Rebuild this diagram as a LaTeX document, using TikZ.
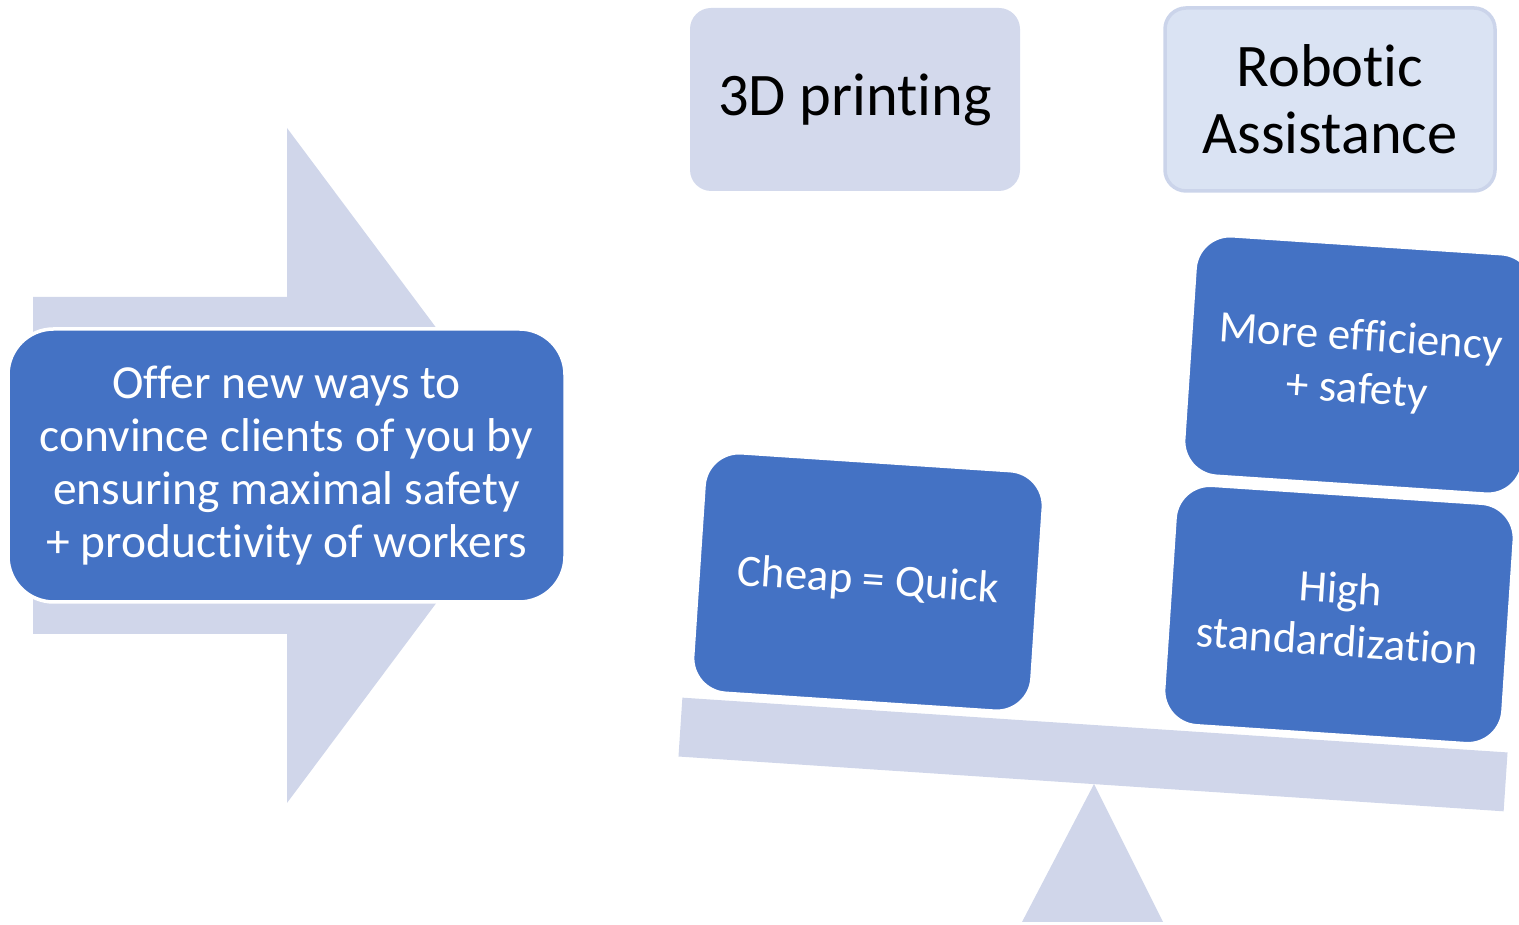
\documentclass[tikz,border=0pt]{standalone}
\usepackage{fontspec}
\setmainfont{Carlito}[Ligatures=NoCommon]
\definecolor{boxblue}{HTML}{4472C4}
\definecolor{palefill}{HTML}{D0D6EA}
\definecolor{topfill}{HTML}{D3D9EC}
\definecolor{robfill}{HTML}{DAE3F3}
\definecolor{robline}{HTML}{CBD4EA}
\newcommand{\ti}{t\kern0pt i}

\begin{document}
\begin{tikzpicture}[align=center,
  bluebox/.style={rectangle, rounded corners=10pt, fill=boxblue, draw=white, line width=1pt, text=white,
    minimum width=3.40cm, minimum height=2.41cm, rotate=-3.8, font=\fontsize{12.8}{15}\selectfont},
  topbox/.style={rectangle, rounded corners=6pt, minimum width=3.3cm, minimum height=1.83cm,
    font=\fontsize{17.2}{19}\selectfont}]
\useasboundingbox (0,0) rectangle (15.19,9.25);

% arrow behind the main box
\fill[palefill] (0.33,6.28) -- (2.87,6.28) -- (2.87,7.97) -- (5.39,4.595)
  -- (2.87,1.22) -- (2.87,2.91) -- (0.33,2.91) -- cycle;

\path (2.865,4.595) node[rectangle, rounded corners=13pt, fill=boxblue, draw=white, line width=1pt, text=white,
        minimum width=5.57cm, minimum height=2.73cm, font=\fontsize{13.5}{15.1}\selectfont] (offer)
        {Offer new ways to\\ convince clients of you by\\ ensuring maximal safety\\ + produc\ti vity of workers}

      (8.55,8.255) node[topbox, fill=topfill] (print) {3D prin\ti ng}
      (13.30,8.255) node[topbox, fill=robfill, draw=robline, line width=1pt] (robot) {Robotic\\ Assistance}

      (8.68,3.43) node[bluebox] (cheap) {Cheap = Quick}
      (13.59,5.60) node[bluebox] (effic) {More efficiency\\ + safety}
      (13.39,3.105) node[bluebox] (stand) {High\\ standardiza\ti on};

% seesaw
\path (10.93,1.705) node[rectangle, fill=palefill, minimum width=8.27cm, minimum height=0.59cm, rotate=-3.8] (beam) {};
\fill[palefill] (10.94,1.41) -- (11.63,0.03) -- (10.22,0.03) -- cycle;

\end{tikzpicture}
\end{document}
